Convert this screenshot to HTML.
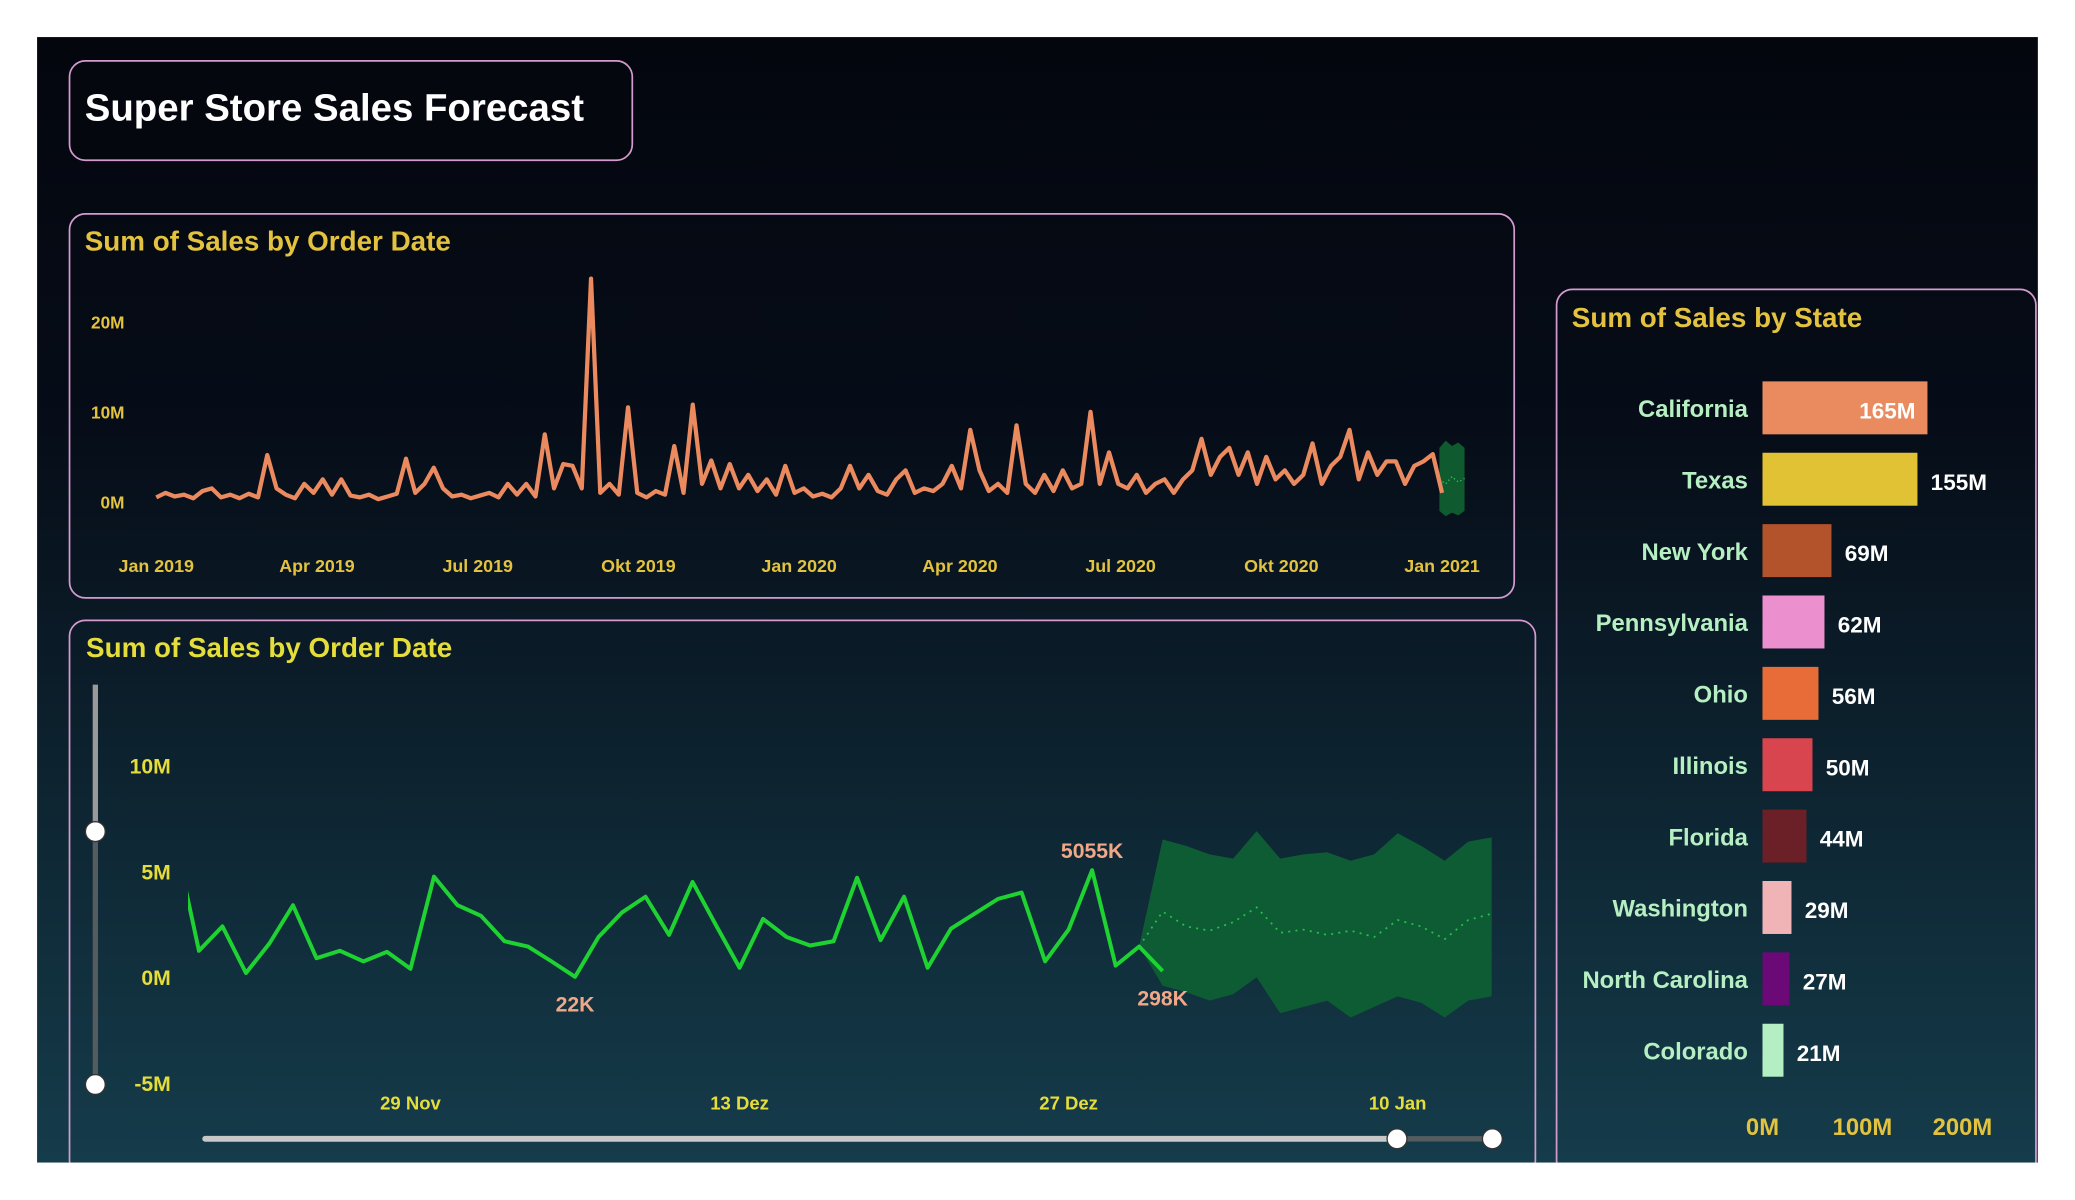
<!DOCTYPE html>
<html><head><meta charset="utf-8"><style>
html,body{margin:0;padding:0;background:#fff;width:2075px;height:1200px;overflow:hidden}
svg{display:block}
text{font-family:"Liberation Sans",sans-serif;font-weight:bold}
</style></head><body>
<svg id="s" width="2075" height="1200" viewBox="0 0 1567 906.2" preserveAspectRatio="none" xmlns="http://www.w3.org/2000/svg">
<defs>
<linearGradient id="bg" x1="0" y1="0" x2="0" y2="1">
<stop offset="0" stop-color="#04060e"/><stop offset="0.35" stop-color="#060d18"/><stop offset="1" stop-color="#153c4b"/>
</linearGradient>
<clipPath id="c2"><rect x="142" y="500" width="1000" height="360"/></clipPath>
</defs>
<rect x="0" y="0" width="1567" height="906.2" fill="#fff"/>
<rect x="28" y="28" width="1511" height="850" fill="url(#bg)"/>
<g>
<rect x="52.5" y="46" width="425" height="75" rx="12" fill="#05070f" stroke="#d59bd0" stroke-width="1.3"/>
<text x="64" y="91" font-size="29" fill="#fff">Super Store Sales Forecast</text>
</g>
<g id="g1">
<rect x="52.5" y="161.5" width="1091" height="290" rx="12" fill="none" stroke="#d59bd0" stroke-width="1.3"/>
<text x="64" y="189" font-size="21" fill="#e2c23e">Sum of Sales by Order Date</text>
</g>
<g id="g2">
<rect x="52.5" y="468.5" width="1107" height="420" rx="12" fill="none" stroke="#d59bd0" stroke-width="1.3"/>
<text x="65" y="496" font-size="21" fill="#e4dd3a">Sum of Sales by Order Date</text>
</g>
<g id="g3">
<rect x="1175.5" y="218.5" width="362" height="670" rx="12" fill="none" stroke="#d59bd0" stroke-width="1.3"/>
<text x="1187" y="247" font-size="21" fill="#e2c23e">Sum of Sales by State</text>
</g>
<rect x="0" y="878" width="1567" height="30" fill="#fff"/>
<rect x="1539" y="0" width="30" height="906.2" fill="#fff"/>
</svg>
<script>
// ---------- chart 1 data ----------
const dailySales = [0.5,1.0,0.6,0.8,0.4,1.2,1.5,0.5,0.8,0.4,0.9,0.5,5.2,1.5,0.8,0.4,2.0,1.0,2.5,0.8,2.5,0.7,0.5,0.8,0.3,0.6,0.9,4.8,1.0,2.0,3.8,1.5,0.6,0.8,0.4,0.7,1.0,0.5,2.0,0.8,2.0,0.6,7.5,1.5,4.2,4.0,1.5,24.8,1.0,2.0,0.8,10.5,1.0,0.5,1.2,0.8,6.2,1.0,10.8,2.0,4.6,1.5,4.2,1.5,3.0,1.2,2.5,0.8,4.0,1.0,1.5,0.6,0.9,0.5,1.5,4.0,1.5,3.0,1.2,0.8,2.5,3.5,1.0,1.5,1.2,2.0,4.0,1.5,8.0,3.5,1.2,2.0,1.0,8.5,2.0,1.0,3.0,1.2,3.5,1.5,2.0,10.0,2.0,5.5,2.0,1.5,3.0,1.0,2.0,2.5,1.0,2.5,3.5,7.0,3.0,5.0,6.0,3.0,5.5,2.0,5.0,2.5,3.5,2.0,3.0,6.5,2.0,4.0,5.0,8.0,2.5,5.5,3.0,4.5,4.5,2.0,4.0,4.5,5.3,1.0];
const dailyTicks = [0,10,20];
const dailyTickLabels = ["0M","10M","20M"];
const monthLabels = ["Jan 2019","Apr 2019","Jul 2019","Okt 2019","Jan 2020","Apr 2020","Jul 2020","Okt 2020","Jan 2021"];
const fc1Upper = [6.0,6.8,6.2,6.6,6.0];
const fc1Lower = [-1.0,-1.6,-1.2,-1.5,-1.0];
const fc1Mid = [2.5,2.0,2.8,2.2,2.6];

// ---------- chart 2 data ----------
const recentDays = [-10,-9,-8,-7,-6,-5,-4,-3,-2,-1,0,1,2,3,4,5,6,7,8,9,10,11,12,13,14,15,16,17,18,19,20,21,22,23,24,25,26,27,28,29,30,31,32];
const recentSales = [6.4,1.25,2.4,0.2,1.6,3.4,0.9,1.25,0.75,1.2,0.4,4.75,3.4,2.9,1.7,1.45,0.75,0.02,1.9,3.06,3.8,2.0,4.5,2.45,0.45,2.75,1.9,1.5,1.7,4.7,1.75,3.8,0.45,2.3,3.0,3.7,4.0,0.75,2.25,5.055,0.55,1.45,0.298];
const forecastDays = [32,33,34,35,36,37,38,39,40,41,42,43,44,45,46];
const forecastMid = [3.1,2.4,2.2,2.6,3.3,2.1,2.25,2.0,2.2,1.9,2.7,2.4,1.8,2.7,3.0];
const forecastUpper = [6.5,6.2,5.8,5.6,6.9,5.6,5.8,5.9,5.5,5.8,6.8,6.2,5.5,6.4,6.6];
const forecastLower = [-0.4,-0.7,-1.1,-0.8,0.0,-1.7,-1.4,-1.1,-1.9,-1.4,-0.9,-1.2,-1.9,-1.1,-0.9];
const recentTicks = [-5,0,5,10];
const recentTickLabels = ["-5M","0M","5M","10M"];
const dateTickDays = [0,14,28,42];
const dateTickLabels = ["29 Nov","13 Dez","27 Dez","10 Jan"];
const pointLabelIdx = [17,39,42];
const pointLabels = ["22K","5055K","298K"];

// ---------- chart 3 data ----------
const states = ["California","Texas","New York","Pennsylvania","Ohio","Illinois","Florida","Washington","North Carolina","Colorado"];
const stateSales = [165,155,69,62,56,50,44,29,27,21];
const stateLabels = ["165M","155M","69M","62M","56M","50M","44M","29M","27M","21M"];
const stateColors = ["#e98a5f","#e2c235","#b2532b","#ec8fce","#e86c38","#d8454f","#6b1f27","#f0b4b6","#6b0a77","#b3efc3"];
const stateTicks = [0,100,200];
const stateTickLabels = ["0M","100M","200M"];

const NS="http://www.w3.org/2000/svg";
function mk(tag, attrs, parent){const e=document.createElementNS(NS,tag);for(const k in attrs)e.setAttribute(k,attrs[k]);parent.appendChild(e);return e;}
function txt(s,x,y,size,fill,anchor,parent){const t=mk("text",{x:x,y:y,"font-size":size,fill:fill,"text-anchor":anchor},parent);t.textContent=s;return t;}

// chart 1
const g1=document.getElementById("g1");
const x1=i=>118+i*(1089-118)/(dailySales.length-1);
const y1=v=>379-v*6.8;
dailyTicks.forEach((v,i)=>{const t=txt(dailyTickLabels[i],94,y1(v)+5,13,"#e2c23e","end",g1);

});
monthLabels.forEach((m,i)=>{const t=txt(m,118+i*(1089-118)/8,432,13.5,"#e2c23e","middle",g1);

});
const fx=i=>1087+i*(1106-1087)/(fc1Upper.length-1);
let bp=fc1Upper.map((v,i)=>fx(i)+","+y1(v)).concat(fc1Lower.map((v,i)=>fx(i)+","+y1(v)).reverse());
const band1=mk("polygon",{points:bp.join(" "),fill:"#0f5a2e"},g1);


const mid1=mk("polyline",{points:fc1Mid.map((v,i)=>fx(i)+","+y1(v)).join(" "),fill:"none",stroke:"#3cc060","stroke-width":1,"stroke-dasharray":"1 2"},g1);


const line1=mk("polyline",{points:dailySales.map((v,i)=>x1(i)+","+y1(v)).join(" "),fill:"none",stroke:"#ea8a5e","stroke-width":3.2,"stroke-linejoin":"round"},g1);



// chart 2
const g2=document.getElementById("g2");
const x2=d=>310+d*17.75;
const y2=v=>738-v*16;
recentTicks.forEach((v,i)=>{const t=txt(recentTickLabels[i],129,y2(v)+6,16,"#e4dd3a","end",g2);

});
dateTickDays.forEach((d,i)=>{const t=txt(dateTickLabels[i],x2(d),838,14,"#e4dd3a","middle",g2);

});
const clipG=mk("g",{"clip-path":"url(#c2)"},g2);
let bp2=[x2(31)+","+y2(recentSales[41])].concat(forecastDays.map((d,i)=>x2(d)+","+y2(forecastUpper[i]))).concat(forecastDays.map((d,i)=>x2(d)+","+y2(forecastLower[i])).reverse());
const band2=mk("polygon",{points:bp2.join(" "),fill:"#0d5c34"},clipG);


const mid2=mk("polyline",{points:[x2(31)+","+y2(recentSales[41])].concat(forecastDays.map((d,i)=>x2(d)+","+y2(forecastMid[i]))).join(" "),fill:"none",stroke:"#28c050","stroke-width":1.3,"stroke-dasharray":"1.5 4"},clipG);


const line2=mk("polyline",{points:recentDays.map((d,i)=>x2(d)+","+y2(recentSales[i])).join(" "),fill:"none",stroke:"#1ed232","stroke-width":3,"stroke-linejoin":"round"},clipG);


pointLabelIdx.forEach((idx,i)=>{const v=recentSales[idx];const above=i===1;
const t=txt(pointLabels[i],x2(recentDays[idx]),above?y2(v)-9:y2(v)+26,16,"#f0a888","middle",g2);

});
// sliders
const vs=mk("g",{},g2);


mk("line",{x1:72,y1:517,x2:72,y2:628,stroke:"#9a9a9a","stroke-width":4},vs);
mk("line",{x1:72,y1:628,x2:72,y2:820,stroke:"#555c60","stroke-width":4},vs);
mk("circle",{cx:72,cy:628,r:7.5,fill:"#fff",stroke:"#333","stroke-width":1},vs);
mk("circle",{cx:72,cy:819,r:7.5,fill:"#fff",stroke:"#333","stroke-width":1},vs);
const hs=mk("g",{},g2);


mk("line",{x1:155,y1:860,x2:1055,y2:860,stroke:"#c8c8c8","stroke-width":4.5,"stroke-linecap":"round"},hs);
mk("line",{x1:1055,y1:860,x2:1127,y2:860,stroke:"#555c60","stroke-width":4},hs);
mk("circle",{cx:1055,cy:860,r:7.5,fill:"#fff",stroke:"#333","stroke-width":1},hs);
mk("circle",{cx:1127,cy:860,r:7.5,fill:"#fff",stroke:"#333","stroke-width":1},hs);

// chart 3
const g3=document.getElementById("g3");
const xs=v=>1331+v*0.755;
const ys=i=>308+i*53.9;
states.forEach((s,i)=>{
const t=txt(s,1320,ys(i)+7,18,"#b6efc2","end",g3);


const b=mk("rect",{x:xs(0),y:ys(i)-20,width:xs(stateSales[i])-xs(0),height:40,fill:stateColors[i]},g3);


const inside=i===0;
const l=txt(stateLabels[i],inside?xs(stateSales[i])-9:xs(stateSales[i])+10,ys(i)+8,17,"#fff",inside?"end":"start",g3);


});
stateTicks.forEach((v,i)=>{const t=txt(stateTickLabels[i],xs(v),857,18,"#e2c23e","middle",g3);

});
</script>
</body></html>
